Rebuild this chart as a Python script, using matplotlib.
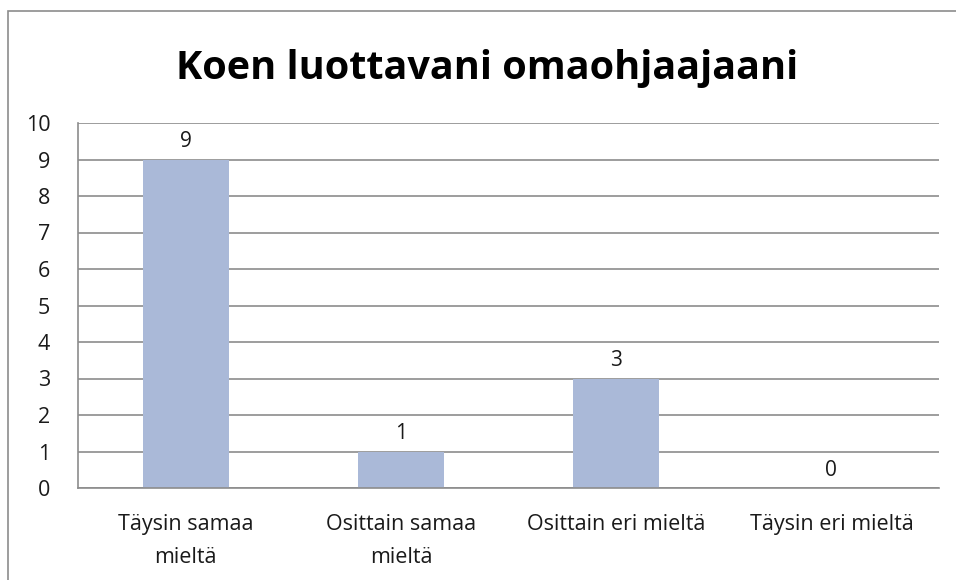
import matplotlib
matplotlib.use('Agg')
import matplotlib.pyplot as plt
from matplotlib.patches import Rectangle

categories = ['Täysin samaa\nmieltä', 'Osittain samaa\nmieltä', 'Osittain eri mieltä', 'Täysin eri mieltä']
values = [9, 1, 3, 0]
yticks = list(range(0, 11))

plt.rcParams['font.family'] = ['Open Sans', 'DejaVu Sans']

W, H = 956, 580
fig = plt.figure(figsize=(W / 100, H / 100), dpi=100)

# outer chart border (right/bottom edges fall outside the image)
fig.patches.append(Rectangle((8 / W, -0.1), 1.2, (H - 11) / H + 0.1,
                             transform=fig.transFigure, fill=False,
                             edgecolor='#8c8c8c', linewidth=1.2))

ax = fig.add_axes([78 / W, (H - 488) / H, (939 - 78) / W, (488 - 123) / H])
x = range(len(categories))
ax.bar(x, values, width=0.4, color='#aab9d8', zorder=2)
for i, v in enumerate(values):
    ax.text(i, v + 0.2, str(v), ha='center', va='bottom', fontsize=15, color='#1a1a1a')

ax.set_xlim(-0.5, len(categories) - 0.5)
ax.set_ylim(0, 10)
ax.set_yticks(yticks)
ax.set_yticklabels([str(t) for t in yticks], fontsize=15.5)
ax.set_xticks(list(x))
ax.set_xticklabels(categories, fontsize=15.5, linespacing=1.75)
ax.tick_params(axis='both', length=0, colors='#1a1a1a')
ax.tick_params(axis='y', pad=20)
ax.tick_params(axis='x', pad=19)
ax.grid(axis='y', color='#8c8c8c', linewidth=1.2, zorder=1)
for side in ['top', 'right']:
    ax.spines[side].set_visible(False)
for side in ['left', 'bottom']:
    ax.spines[side].set_color('#8c8c8c')
    ax.spines[side].set_linewidth(1.2)

fig.text(487 / W, (H - 68) / H, 'Koen luottavani omaohjaajaani', ha='center', va='center',
         fontsize=28.5, fontweight='bold', color='black')

fig.savefig('out.png', dpi=100)
